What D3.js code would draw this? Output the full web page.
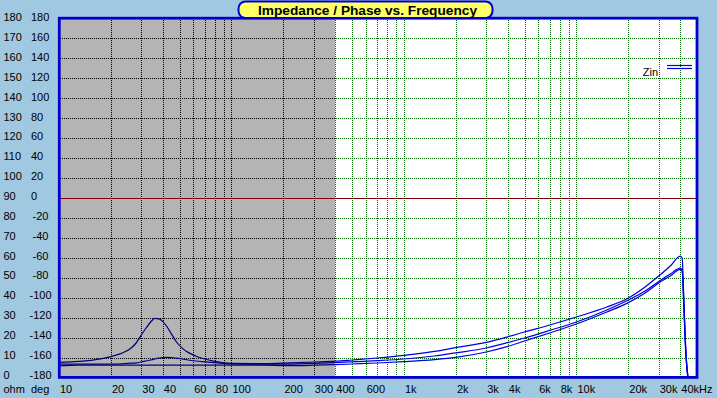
<!DOCTYPE html>
<html>
<head>
<meta charset="utf-8">
<script src="https://cdn.jsdelivr.net/npm/d3@7"></script>
<style>
  html, body { margin: 0; padding: 0; background: #A0C8E0; }
  svg { display: block; }
</style>
</head>
<body>
<script>
// ---- data ----
const freqs = [10, 13, 16, 20, 23, 26, 28, 30, 32, 34, 36, 38, 40, 42, 45, 48, 52, 56, 62, 70, 80, 100, 150, 220, 300, 400, 500, 700, 1000, 1500, 2000, 3000, 4000, 5000, 7000, 10000, 15000, 20000, 25000, 30000, 35000, 40000, 41000, 42000, 43000, 44300];
const zinA = [7.8, 8.3, 9.1, 10.7, 12.3, 14.8, 17.5, 21.5, 25.0, 28.0, 29.8, 29.6, 28.2, 26.0, 21.8, 18.0, 14.8, 12.8, 11.0, 9.5, 8.3, 7.3, 7.2, 7.6, 8.0, 8.4, 9.0, 10.0, 11.3, 13.3, 15.2, 17.8, 20.6, 23.0, 26.5, 30.5, 35.5, 40.0, 45.5, 51.0, 56.0, 61.0, 59.8, 38, 15, 0];
const zinB = [7.0, 7.0, 7.0, 7.0, 7.1, 7.4, 7.6, 8.0, 8.5, 9.0, 9.5, 9.9, 10.2, 10.3, 10.2, 9.9, 9.5, 9.0, 8.5, 8.1, 7.7, 7.1, 6.9, 7.0, 7.3, 7.7, 8.1, 8.7, 9.5, 11.0, 12.6, 15.0, 17.7, 20.0, 23.8, 28.0, 34.0, 39.0, 43.5, 48.3, 52.0, 55.0, 54.0, 36, 14, 0];
const zinC = [6.0, 6.4, 6.5, 6.5, 6.5, 6.5, 6.5, 6.5, 6.5, 6.5, 6.5, 6.5, 6.5, 6.5, 6.5, 6.5, 6.5, 6.5, 6.5, 6.5, 6.5, 6.5, 6.4, 6.2, 6.4, 6.7, 7.0, 7.5, 8.2, 9.2, 10.3, 13.0, 15.8, 18.5, 22.5, 27.0, 33.0, 37.7, 42.5, 47.5, 51.0, 54.3, 53.5, 34, 13, 0];

const ohmTicks = [0, 10, 20, 30, 40, 50, 60, 70, 80, 90, 100, 110, 120, 130, 140, 150, 160, 170, 180];
const degTicks = [-180, -160, -140, -120, -100, -80, -60, -40, -20, 0, 20, 40, 60, 80, 100, 120, 140, 160, 180];
const freqTickValues = [10, 20, 30, 40, 60, 80, 100, 200, 300, 400, 600, 1000, 2000, 3000, 4000, 6000, 8000, 10000, 20000, 30000, 40000];
const freqTickLabels = ["10", "20", "30", "40", "60", "80", "100", "200", "300", "400", "600", "1k", "2k", "3k", "4k", "6k", "8k", "10k", "20k", "30k", "40kHz"];
const shadedRange = [10, 400];
const titleText = "Impedance / Phase vs. Frequency";
const legendLabel = "Zin";

// ---- layout ----
const W = 717, H = 398;
const L = 59, R = 697, T = 18, B = 378;
const FONT = "'Liberation Sans', Arial, sans-serif";

const svg = d3.select("body").append("svg").attr("width", W).attr("height", H);
svg.append("rect").attr("width", W).attr("height", H).attr("fill", "#A0C8E0");

const x = d3.scaleLog().domain([10, 50000]).range([L, R]);
const y = d3.scaleLinear().domain([0, 180]).range([B, T]);
const yDeg = d3.scaleLinear().domain([-180, 180]).range([B, T]);
const labelY = d3.scaleLinear().domain([0, 180]).range([378.3, 20.7]);
const labelYDeg = d3.scaleLinear().domain([-180, 180]).range([378.3, 20.7]);

const xs = Math.round(x(shadedRange[1]));

// clip paths and dot patterns
const defs = svg.append("defs");
defs.append("clipPath").attr("id", "cGray").append("rect")
  .attr("x", L).attr("y", T).attr("width", xs - L).attr("height", B - T);
defs.append("clipPath").attr("id", "cWhite").append("rect")
  .attr("x", xs).attr("y", T).attr("width", R - xs).attr("height", B - T);

function makePatterns(id, color) {
  const ph = defs.append("pattern").attr("id", id + "H").attr("patternUnits", "userSpaceOnUse")
    .attr("x", 0).attr("y", 0).attr("width", 2).attr("height", 1);
  ph.append("rect").attr("x", 0).attr("y", 0).attr("width", 1).attr("height", 1).attr("fill", color);
  const pv = defs.append("pattern").attr("id", id + "V").attr("patternUnits", "userSpaceOnUse")
    .attr("x", 0).attr("y", 0).attr("width", 1).attr("height", 2);
  pv.append("rect").attr("x", 0).attr("y", 0).attr("width", 1).attr("height", 1).attr("fill", color);
}
makePatterns("pBlack", "#000000");
makePatterns("pGreen", "#006400");

// plot background
svg.append("rect").attr("x", L).attr("y", T).attr("width", R - L).attr("height", B - T).attr("fill", "#FFFFFF");
svg.append("rect").attr("x", x(shadedRange[0])).attr("y", T).attr("width", xs - x(shadedRange[0])).attr("height", B - T).attr("fill", "#B4B4B4");

// grid
const vTicks = x.ticks().filter(f => f > 10 && f < 50000);
const hTicks = ohmTicks.filter(v => v > 0 && v < 180 && v !== 90);
function drawGrid(clipId, pat) {
  const g = svg.append("g").attr("clip-path", `url(#${clipId})`).attr("shape-rendering", "crispEdges");
  g.selectAll("rect.v").data(vTicks).join("rect").attr("class", "v")
    .attr("x", d => Math.round(x(d))).attr("width", 1)
    .attr("y", T).attr("height", B - T).attr("fill", `url(#${pat}V)`);
  g.selectAll("rect.h").data(hTicks).join("rect").attr("class", "h")
    .attr("y", d => Math.round(y(d))).attr("height", 1)
    .attr("x", L).attr("width", R - L).attr("fill", `url(#${pat}H)`);
}
drawGrid("cGray", "pBlack");
drawGrid("cWhite", "pGreen");

// zero phase line
svg.append("rect").attr("x", L).attr("width", R - L)
  .attr("y", Math.round(yDeg(0))).attr("height", 1)
  .attr("fill", "#800000").attr("shape-rendering", "crispEdges");

// curves
const series = [zinA, zinB, zinC].map(vals => freqs.map((f, i) => ({ f, v: vals[i] })));
const line = d3.line().x(d => x(d.f)).y(d => y(d.v)).curve(d3.curveMonotoneX);
[["cGray", "#000080"], ["cWhite", "#0000E0"]].forEach(([clip, color]) => {
  const g = svg.append("g").attr("clip-path", `url(#${clip})`);
  g.selectAll("path").data(series).join("path")
    .attr("d", line).attr("fill", "none").attr("stroke", color).attr("stroke-width", 1.25);
});

// plot border
svg.append("rect").attr("x", 59.3).attr("y", 18.2).attr("width", 637.7).attr("height", 359.2)
  .attr("fill", "none").attr("stroke", "#0000CC").attr("stroke-width", 2.8);

// y axes (ohm and deg)
const gOhm = svg.append("g")
  .call(d3.axisLeft(y).tickValues(ohmTicks).tickSize(0).tickFormat(d => String(d)));
gOhm.select(".domain").remove();
gOhm.attr("font-family", FONT).attr("font-size", 11).attr("text-anchor", "start");
gOhm.selectAll("text").attr("x", 3.5).attr("dy", null)
  .attr("y", d => labelY(d) - y(d)).attr("fill", "#000");

const gDeg = svg.append("g")
  .call(d3.axisLeft(yDeg).tickValues(degTicks).tickSize(0).tickFormat(d => String(d)));
gDeg.select(".domain").remove();
gDeg.attr("font-family", FONT).attr("font-size", 11);
gDeg.selectAll("text").attr("dy", null)
  .attr("y", d => labelYDeg(d) - yDeg(d)).attr("fill", "#000")
  .attr("text-anchor", d => d < 0 ? "middle" : "start")
  .attr("x", d => d < 0 ? 40.5 : 31);

// unit labels
svg.append("text").attr("x", 3.5).attr("y", 393).attr("fill", "#000").attr("font-family", FONT).attr("font-size", 11).text("ohm");
svg.append("text").attr("x", 31).attr("y", 393).attr("fill", "#000").attr("font-family", FONT).attr("font-size", 11).text("deg");

// x axis
const gx = svg.append("g").attr("transform", `translate(0,${B})`)
  .call(d3.axisBottom(x).tickValues(freqTickValues).tickSize(0)
    .tickFormat(d => freqTickLabels[freqTickValues.indexOf(d)]));
gx.select(".domain").remove();
gx.attr("font-family", FONT).attr("font-size", 11).attr("text-anchor", "start");
gx.selectAll("text").attr("dy", null).attr("y", 15).attr("x", 0.5).attr("fill", "#000");

// legend
svg.append("text").attr("x", 658).attr("y", 76).attr("text-anchor", "end").attr("fill", "#000")
  .attr("font-family", FONT).attr("font-size", 11).text(legendLabel);
[65.5, 68.5].forEach(yy => {
  svg.append("line").attr("x1", 667).attr("x2", 692).attr("y1", yy).attr("y2", yy)
    .attr("stroke", "#0000E0").attr("stroke-width", 1.2);
});

// title
svg.append("rect").attr("x", 238.5).attr("y", 1.5).attr("width", 254).attr("height", 16.5)
  .attr("rx", 7).attr("ry", 7).attr("fill", "#FFFF66").attr("stroke", "#0000CC").attr("stroke-width", 2);
svg.append("text").attr("x", 258).attr("y", 15).attr("fill", "#000").attr("font-family", FONT)
  .attr("font-weight", "bold").attr("font-size", 13.7)
  .attr("textLength", 219).attr("lengthAdjust", "spacingAndGlyphs")
  .text(titleText);
</script>
</body>
</html>
